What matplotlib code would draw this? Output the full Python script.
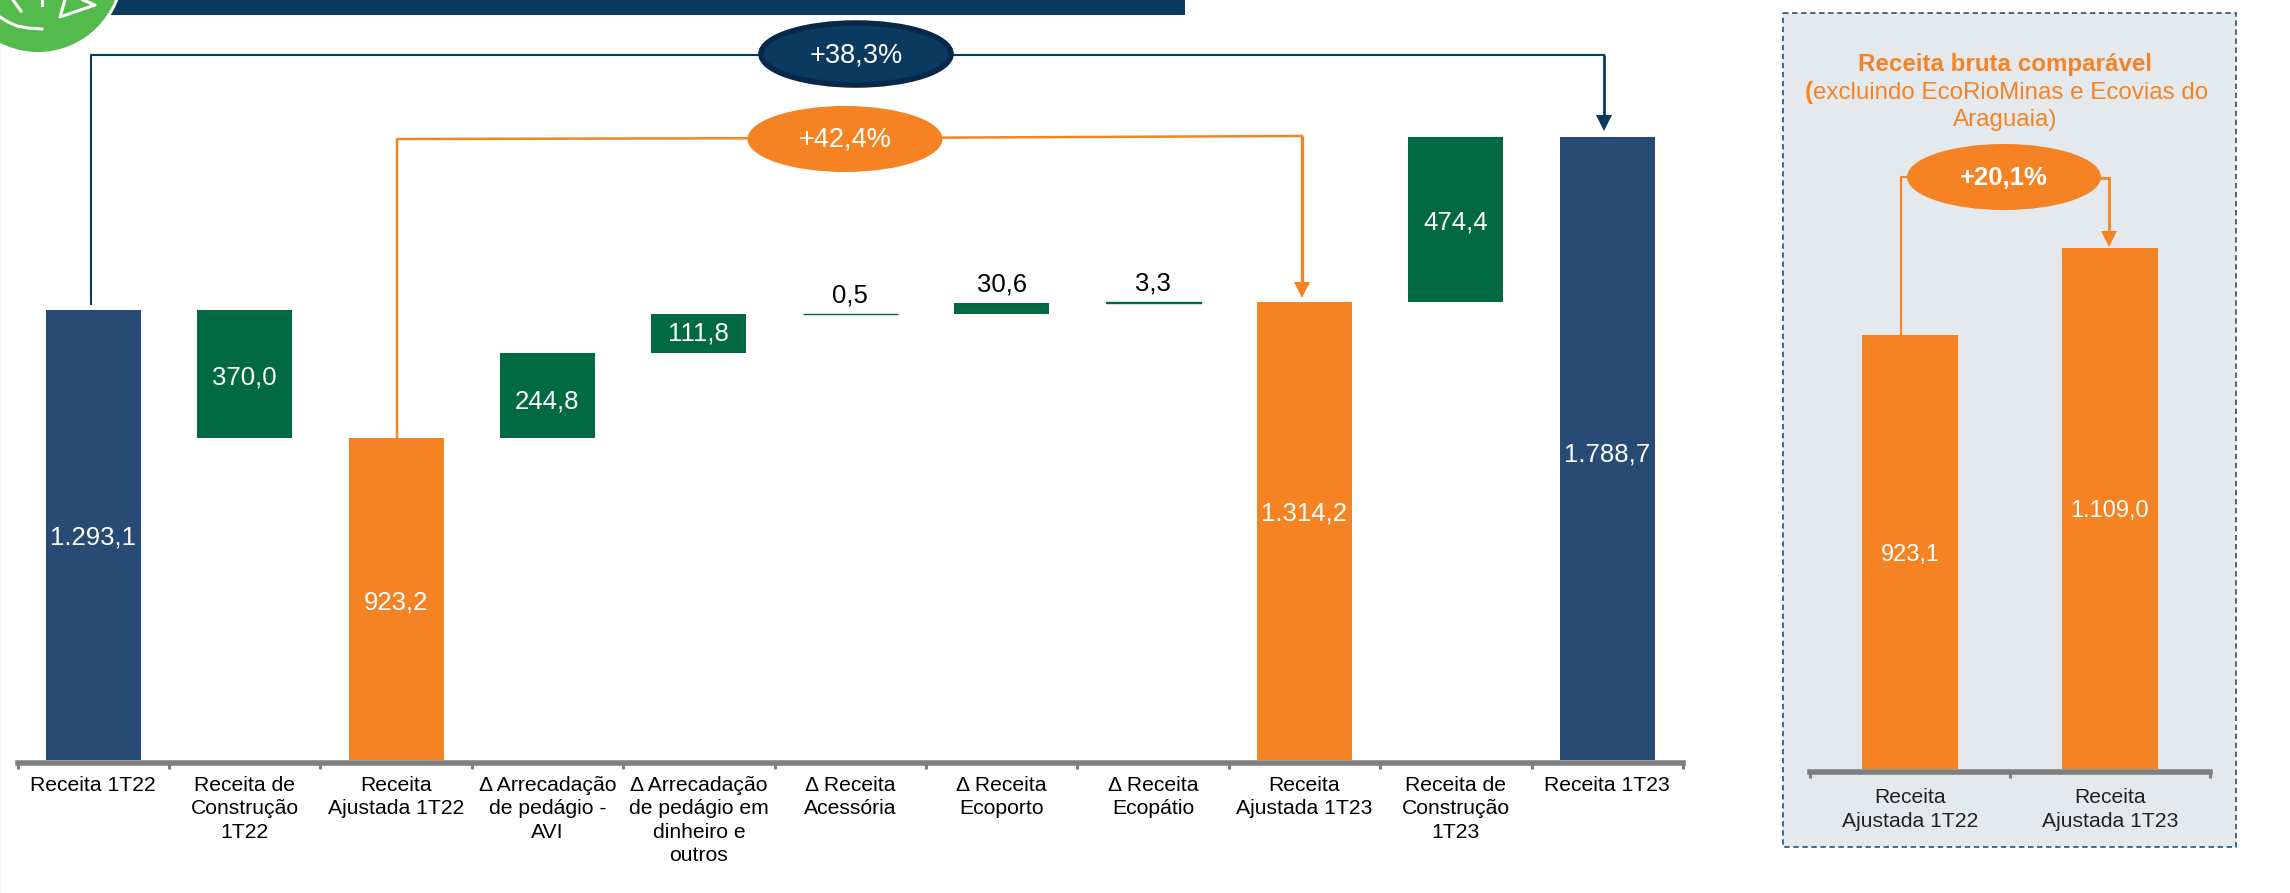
import matplotlib
matplotlib.use("Agg")
import matplotlib.pyplot as plt
from matplotlib.patches import Ellipse, Rectangle, Polygon, Circle

plt.rcParams['font.family'] = ['Liberation Sans', 'DejaVu Sans']

W, H = 2290, 893
NAVY, BLUE, GREEN, ORANGE = '#0A3A5F', '#284B76', '#016A42', '#F58323'
GREY = '#7F7F7F'

categories = ['Receita 1T22', 'Receita de\nConstrução\n1T22', 'Receita\nAjustada 1T22',
              'Δ Arrecadação\nde pedágio -\nAVI', 'Δ Arrecadação\nde pedágio em\ndinheiro e\noutros',
              'Δ Receita\nAcessória', 'Δ Receita\nEcoporto', 'Δ Receita\nEcopátio',
              'Receita\nAjustada 1T23', 'Receita de\nConstrução\n1T23', 'Receita 1T23']
values = [1293.1, 370.0, 923.2, 244.8, 111.8, 0.5, 30.6, 3.3, 1314.2, 474.4, 1788.7]
bottoms = [0, 923.2, 0, 923.2, 1168.0, 1279.8, 1280.3, 1310.9, 0, 1314.2, 0]
labels = ['1.293,1', '370,0', '923,2', '244,8', '111,8', '0,5', '30,6', '3,3', '1.314,2', '474,4', '1.788,7']
colors = [BLUE, GREEN, ORANGE, GREEN, GREEN, GREEN, GREEN, GREEN, ORANGE, GREEN, BLUE]

side_categories = ['Receita\nAjustada 1T22', 'Receita\nAjustada 1T23']
side_values = [923.1, 1109.0]
side_labels = ['923,1', '1.109,0']

# vertical nudge of the value labels, in points (positive = down)
label_nudge = [2.2, 2.2, 2.2, 4.3, 0, 0, 0, 0, -12.5, 2.2, 4.3]

fig = plt.figure(figsize=(W / 100, H / 100), dpi=100, facecolor='white')

def axes_px(x0, y0, x1, y1, **kw):
    return fig.add_axes([x0 / W, 1 - y1 / H, (x1 - x0) / W, (y1 - y0) / H], **kw)

bg = axes_px(0, 0, W, H, zorder=0)
bg.set_xlim(0, W); bg.set_ylim(H, 0); bg.axis('off')
ov = axes_px(0, 0, W, H, zorder=5)
ov.set_xlim(0, W); ov.set_ylim(H, 0); ov.axis('off'); ov.patch.set_alpha(0)

# header + logo
bg.add_patch(Rectangle((0, 50), 1, 843, fc='#F2FAF2', ec='none'))
ov.add_patch(Rectangle((110, 0), 1075, 15, fc=NAVY, ec='none', zorder=1))
ov.add_patch(Circle((38, -31), 86, fc='white', ec='none', zorder=2))
ov.add_patch(Circle((38, -31), 83, fc='#52BB4B', ec='none', zorder=3))
ov.plot([0, 8, 17, 28, 42], [17, 22, 26, 28, 29], color='white', lw=2.2, zorder=4)
ov.plot([13, 21], [0, 11], color='white', lw=2.2, zorder=4)
ov.plot([42, 42], [0, 5], color='white', lw=2.2, zorder=4)
ov.plot([65, 60, 95, 83], [0, 17, 5, 0], color='white', lw=2.2, zorder=4)

# side panel
bg.add_patch(Rectangle((1783, 13), 453, 834, fc='#E4E9EE', ec='#33607F', lw=1.3, ls=(0, (3, 2))))

# main chart
ax = axes_px(17.5, 0, 1683, 760, zorder=2)
ax.patch.set_alpha(0)
ax.set_xlim(-0.5, 10.5)
ax.set_ylim(0, 760 / 0.3483)
for i, (v, b, c) in enumerate(zip(values, bottoms, colors)):
    ax.bar(i, v, width=95 / 151.45, bottom=b, color=c, edgecolor=c if v < 10 else 'none',
           linewidth=1.0 if v < 10 else 0)
for i, (v, b, t, n) in enumerate(zip(values, bottoms, labels, label_nudge)):
    if v > 100:
        ax.annotate(t, (i, b + v / 2), xytext=(0, -n), textcoords='offset points',
                    ha='center', va='center', color='white', fontsize=18.5)
    else:
        ax.annotate(t, (i, b + v), xytext=(0, 5), textcoords='offset points',
                    ha='center', va='bottom', color='black', fontsize=18.5)

# side chart
ax2 = axes_px(1810, 0, 2210, 769, zorder=2)
ax2.patch.set_alpha(0)
ax2.set_xlim(-0.5, 1.5)
ax2.set_ylim(0, 769 / 0.4698)
ax2.bar(range(2), side_values, width=96 / 200, color=ORANGE, linewidth=0)
for i, (v, t) in enumerate(zip(side_values, side_labels)):
    ax2.annotate(t, (i, v / 2), xytext=(0, -2), textcoords='offset points',
                 ha='center', va='center', color='white', fontsize=17)

for a, cats, ntick, c, pad in ((ax, categories, 11, 'black', 11.5), (ax2, side_categories, 2, '#222222', 14)):
    for s in ('top', 'left', 'right'):
        a.spines[s].set_visible(False)
    a.yaxis.set_visible(False)
    a.spines['bottom'].set_color(GREY)
    a.spines['bottom'].set_linewidth(4)
    a.spines['bottom'].set_position(('outward', 2))
    a.set_xticks([x - 0.5 for x in range(ntick + 1)])
    a.tick_params(axis='x', length=4.5, width=2.2, color=GREY, labelbottom=False)
    for i, t in enumerate(cats):
        a.annotate(t, (i, 0), xycoords=('data', 'axes fraction'),
                   xytext=(0, -pad), textcoords='offset points',
                   ha='center', va='top', fontsize=15.2, color=c, linespacing=1.3,
                   annotation_clip=False)

def arrow(x, y0, y1, col, lw):
    ov.plot([x, x], [y0, y1 - 15], color=col, lw=lw, solid_capstyle='butt', zorder=4)
    ov.add_patch(Polygon([[x - 8, y1 - 16], [x + 8, y1 - 16], [x, y1]], closed=True, fc=col, ec='none', zorder=4))

def bubble(cx, cy, w, h, col, text, ec='none', lw=0, bold=False, fs=19.5):
    ov.add_patch(Ellipse((cx, cy), w, h, fc=col, ec=ec, lw=lw, zorder=6))
    ov.text(cx, cy + 1, text, color='white', ha='center', va='center', fontsize=fs,
            fontweight='bold' if bold else 'normal', zorder=7)

# +38,3%
ov.plot([91, 91, 1604], [304, 55, 55], color=NAVY, lw=1.5, zorder=4)
arrow(1604, 55, 131, NAVY, 2)
bubble(856, 54, 190, 62, NAVY, '+38,3%', ec='#06294A', lw=4)
# +42,4%
ov.plot([397, 397, 860, 1302], [438, 139, 138, 136], color=ORANGE, lw=1.8, zorder=4)
arrow(1302, 136, 298, ORANGE, 2.4)
bubble(845, 139, 195, 66, ORANGE, '+42,4%')
# +20,1%
ov.plot([1901, 1901, 1910], [335, 177, 177], color=ORANGE, lw=1.5, zorder=4)
ov.plot([2098, 2109], [178, 178], color=ORANGE, lw=2, zorder=4)
arrow(2109, 178, 247, ORANGE, 2)
bubble(2004, 177, 194, 66, ORANGE, '+20,1%', bold=True, fs=18.5)

# side title
ov.text(2005, 64, 'Receita bruta comparável', color=ORANGE, fontsize=17.4, fontweight='bold', ha='center', va='center')
ov.text(1805, 93, '(', color=ORANGE, fontsize=17.4, fontweight='bold', ha='left', va='center')
ov.text(1813, 93, 'excluindo EcoRioMinas e Ecovias do', color=ORANGE, fontsize=17.4, ha='left', va='center')
ov.text(2005, 120, 'Araguaia)', color=ORANGE, fontsize=17.4, ha='center', va='center')

fig.savefig('out.png', dpi=100, facecolor='white')
